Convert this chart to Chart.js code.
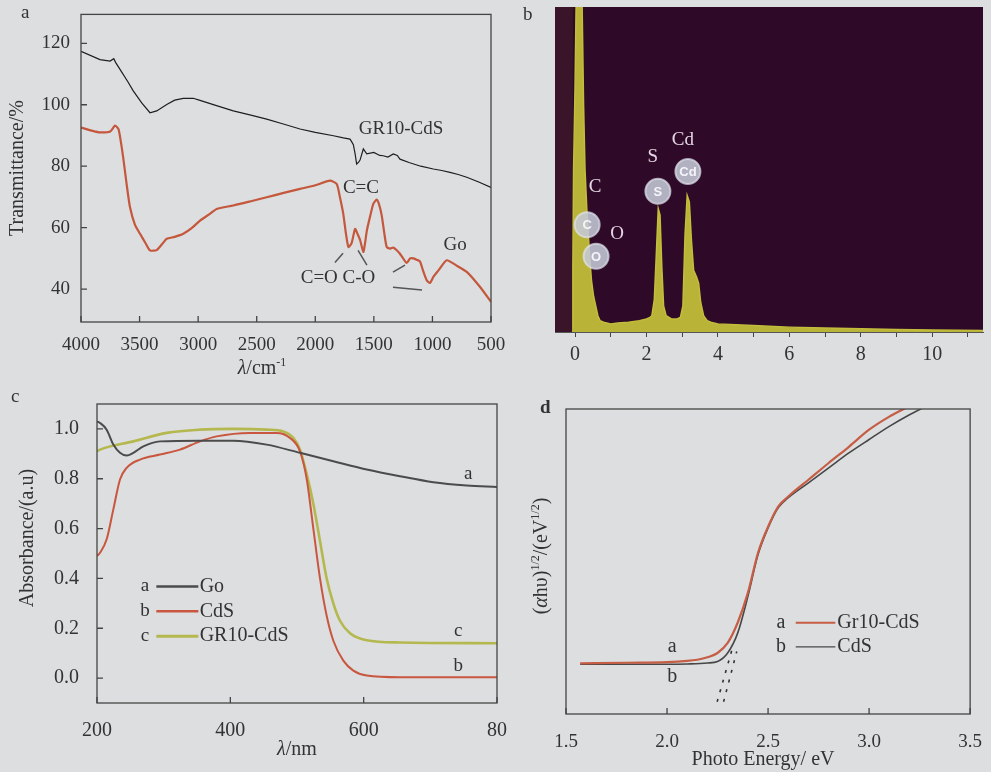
<!DOCTYPE html>
<html>
<head>
<meta charset="utf-8">
<script src="https://cdn.jsdelivr.net/npm/chart.js@4"></script>
<style>
  body { margin: 0; background: #dcdee0; width: 991px; height: 772px; position: relative; overflow: hidden; font-family: 'Liberation Serif', serif; color: #333; }
  canvas { position: absolute; }
  .tag { position: absolute; font-size: 19px; line-height: 20px; color: #333; }
</style>
</head>
<body>
<canvas id="ca" width="520" height="380" style="left:0;top:0"></canvas>
<canvas id="cb" width="471" height="380" style="left:520px;top:0"></canvas>
<canvas id="cc" width="520" height="392" style="left:0;top:380px"></canvas>
<canvas id="cd" width="471" height="392" style="left:520px;top:380px"></canvas>
<div class="tag" style="left:21px;top:2px">a</div>
<div class="tag" style="left:523px;top:4px">b</div>
<div class="tag" style="left:11px;top:386px">c</div>
<div class="tag" style="left:540px;top:397px;font-weight:bold">d</div>
<script>
// ---- panel a : FTIR (wavenumber, transmittance) ----
const grFtir = [[4000,117.4],[3838,114.7],[3752,114.2],[3720,115.0],[3705,113.8],[3667,111.5],[3600,107.5],[3554,104.5],[3480,100.5],[3411,97.4],[3354,98.0],[3268,100.1],[3200,101.5],[3127,102.1],[3042,102.1],[2984,101.4],[2850,99.8],[2700,98.0],[2550,96.6],[2415,95.3],[2280,93.8],[2130,92.1],[2000,91.0],[1845,89.9],[1760,89.2],[1704,88.8],[1690,88.0],[1675,87.0],[1660,84.0],[1647,80.7],[1630,81.3],[1618,82.0],[1590,85.6],[1561,84.0],[1500,84.5],[1450,83.5],[1420,83.4],[1380,83.0],[1334,84.0],[1300,83.5],[1277,82.3],[1200,81.2],[1100,80.0],[992,79.1],[920,78.6],[850,78.0],[780,77.3],[707,76.4],[600,74.8],[500,73.1]];
const goFtir = [[4000,92.6],[3900,91.5],[3838,91.0],[3750,91.3],[3710,93.2],[3680,92.1],[3660,88.0],[3640,82.9],[3610,74.0],[3582,66.7],[3540,61.0],[3496,58.0],[3450,55.0],[3411,52.6],[3354,52.7],[3300,55.0],[3268,56.4],[3200,57.0],[3127,58.0],[3050,60.0],[2984,62.3],[2900,64.5],[2842,66.1],[2700,67.2],[2550,68.6],[2415,69.9],[2270,71.3],[2130,72.6],[2000,73.8],[1874,75.3],[1817,74.2],[1790,70.0],[1761,64.5],[1740,58.5],[1717,53.7],[1690,55.0],[1660,59.6],[1640,58.0],[1617,55.9],[1590,52.1],[1575,55.0],[1560,59.0],[1530,64.0],[1504,67.8],[1476,69.1],[1455,67.5],[1433,64.0],[1410,58.0],[1390,53.7],[1360,53.2],[1334,53.5],[1300,52.5],[1277,51.5],[1250,50.0],[1220,48.5],[1190,50.0],[1163,50.0],[1130,49.5],[1106,49.0],[1080,46.0],[1049,42.9],[1021,42.0],[992,44.0],[950,46.0],[878,49.4],[800,47.8],[707,45.6],[600,41.0],[500,35.9]];
const irTicks = [500, 1000, 1500, 2000, 2500, 3000, 3500, 4000];
const trTicks = [40, 60, 80, 100, 120];

// ---- panel b : EDS spectrum (keV, relative counts) ----
const edsSpectrum = [[-0.08,0],[-0.06,20],[-0.04,50],[0.0,75],[0.03,100],[0.08,140],[0.14,130],[0.2,100],[0.24,70],[0.28,50],[0.33,38],[0.4,25],[0.46,16],[0.52,11],[0.58,8],[0.64,5],[0.7,3.5],[0.8,3],[1.0,2.5],[1.2,2.8],[1.5,3],[1.8,3.5],[2.0,4],[2.1,4.5],[2.15,5],[2.22,10],[2.28,25],[2.33,38],[2.38,36],[2.43,20],[2.48,8],[2.55,5],[2.7,4],[2.85,4],[2.95,4.5],[3.02,8],[3.08,30],[3.14,42],[3.2,40],[3.26,28],[3.32,19],[3.4,17],[3.46,15],[3.52,9],[3.6,5],[3.7,3.5],[3.8,3],[4.0,2.5],[5.0,2],[6.0,1.5],[7.0,1.2],[8.0,1],[9.0,0.8],[10.0,0.6],[11.42,0.5]];
const edsMarkers = [[0.34,33],[0.59,23.3],[2.32,43.3],[3.16,49.4]];
const edsMarkerText = ['C', 'O', 'S', 'Cd'];
const edsLabels = [['C',0.56,44.5],['O',1.18,30],['S',2.18,53.7],['Cd',3.02,59.2]];
const keVTicks = [0, 1, 2, 3, 4, 5, 6, 7, 8, 9, 10, 11];

// ---- panel c : UV-vis absorbance (nm, a.u.) ----
const goAbs = [[200,1.03],[204.5,1.024],[214.5,0.997],[224.5,0.937],[234.5,0.904],[244.5,0.893],[254.5,0.904],[269.5,0.93],[294.5,0.95],[354.5,0.953],[404.5,0.953],[454.5,0.937],[504.5,0.904],[554.5,0.87],[604.5,0.837],[654.5,0.81],[704.5,0.786],[754.5,0.773],[800,0.767]];
const cdsAbs = [[200,0.49],[204.5,0.503],[214.5,0.557],[224.5,0.677],[234.5,0.797],[244.5,0.844],[264.5,0.877],[294.5,0.897],[324.5,0.917],[354.5,0.95],[379.5,0.97],[429.5,0.984],[469.5,0.984],[489.5,0.964],[504.5,0.91],[514.5,0.8],[524.5,0.6],[534.5,0.4],[544.5,0.25],[554.5,0.15],[569.5,0.07],[584.5,0.03],[604.5,0.01],[654.5,0.003],[800,0.003]];
const grAbs = [[200,0.91],[204.5,0.917],[254.5,0.95],[304.5,0.984],[354.5,0.997],[404.5,1.0],[454.5,0.997],[479.5,0.99],[494.5,0.964],[504.5,0.917],[514.5,0.82],[524.5,0.7],[534.5,0.55],[544.5,0.4],[554.5,0.3],[564.5,0.23],[579.5,0.18],[604.5,0.152],[654.5,0.143],[800,0.14]];
const nmTicks = [200, 400, 600, 800];
const nmTickText = ['200', '400', '600', '80'];
const absTicks = [0.0, 0.2, 0.4, 0.6, 0.8, 1.0];

// ---- panel d : Tauc plot (eV, (ahv)^1/2) ----
const grTauc = [[1.57,16.6],[1.8,16.8],[2.0,17.0],[2.1,17.4],[2.15,17.8],[2.2,18.6],[2.25,20],[2.3,23.3],[2.35,30],[2.4,39.7],[2.45,52.8],[2.5,61.4],[2.55,68],[2.6,71.3],[2.7,76.8],[2.8,82.3],[2.9,87.6],[3.0,93.2],[3.1,97.5],[3.2,101]];
const cdsTauc = [[1.57,16.3],[1.8,16.3],[2.0,16.3],[2.1,16.4],[2.2,16.7],[2.25,17.2],[2.3,20],[2.35,26.6],[2.4,38.5],[2.45,52.2],[2.5,61],[2.55,67.6],[2.6,70.9],[2.7,75.8],[2.8,80.7],[2.9,85.6],[3.0,90],[3.1,94.3],[3.2,98.1],[3.3,101.5]];
const grTangent = [[2.248,4],[2.321,21]];
const cdsTangent = [[2.28,4],[2.345,20.5]];
const eVTicks = [1.5, 2.0, 2.5, 3.0, 3.5];

const SERIF = "'Liberation Serif', 'DejaVu Serif', serif";
Chart.defaults.font.family = SERIF;
Chart.defaults.color = '#333';
Chart.defaults.animation = false;
Chart.defaults.events = [];
Chart.defaults.layout.autoPadding = false;
Chart.defaults.plugins.legend.display = false;
Chart.defaults.plugins.tooltip.enabled = false;

const xy = arr => arr.map(([x, y]) => ({ x, y }));
const setTicks = list => s => { s.ticks = list.map(v => ({ value: v })); };

// box round the plot with short ticks pointing inwards
function frame(tick) {
  return {
    id: 'frame',
    afterDatasetsDraw(chart) {
      const { ctx, chartArea: a, scales } = chart;
      ctx.save();
      ctx.strokeStyle = '#444';
      ctx.lineWidth = 1.3;
      ctx.strokeRect(a.left, a.top, a.right - a.left, a.bottom - a.top);
      ctx.beginPath();
      scales.x.ticks.forEach(t => {
        const p = scales.x.getPixelForValue(t.value);
        ctx.moveTo(p, a.bottom); ctx.lineTo(p, a.bottom - tick);
      });
      scales.y.ticks.forEach(t => {
        const p = scales.y.getPixelForValue(t.value);
        ctx.moveTo(a.left, p); ctx.lineTo(a.left + tick, p);
      });
      ctx.stroke();
      ctx.restore();
    }
  };
}

// texts and short lines placed in data units
function notes(texts, lines) {
  return {
    id: 'notes',
    afterDatasetsDraw(chart) {
      const { ctx, scales: { x, y } } = chart;
      ctx.save();
      lines.forEach(l => {
        ctx.strokeStyle = l.color || '#555';
        ctx.lineWidth = l.width || 1.5;
        ctx.beginPath();
        ctx.moveTo(x.getPixelForValue(l.x1), y.getPixelForValue(l.y1));
        ctx.lineTo(x.getPixelForValue(l.x2), y.getPixelForValue(l.y2));
        ctx.stroke();
      });
      texts.forEach(t => {
        ctx.font = `${t.size || 19}px ${SERIF}`;
        ctx.fillStyle = t.color || '#333';
        ctx.textAlign = t.align || 'center';
        ctx.textBaseline = 'middle';
        ctx.fillText(t.t, x.getPixelForValue(t.x), y.getPixelForValue(t.y));
      });
      ctx.restore();
    }
  };
}

// axis titles with italic / superscript pieces
function drawRuns(ctx, runs, cx, cy, rot, size) {
  const fontOf = r => `${r.i ? 'italic ' : ''}${r.sup ? Math.round(size * 0.62) : size}px ${SERIF}`;
  const widths = runs.map(r => { ctx.font = fontOf(r); return ctx.measureText(r.t).width; });
  const total = widths.reduce((s, w) => s + w, 0);
  ctx.save();
  ctx.translate(cx, cy);
  ctx.rotate(rot);
  ctx.textBaseline = 'middle';
  ctx.textAlign = 'left';
  ctx.fillStyle = '#333';
  let px = -total / 2;
  runs.forEach((r, i) => {
    ctx.font = fontOf(r);
    ctx.fillText(r.t, px, r.sup ? -size * 0.33 : 0);
    px += widths[i];
  });
  ctx.restore();
}
function titles(list) {
  return {
    id: 'titles',
    afterDraw(chart) {
      list.forEach(t => drawRuns(chart.ctx, t.runs, t.x, t.y, t.rot || 0, 20));
    }
  };
}

const tickFont = { size: 19 };

// ---------- a ----------
new Chart(document.getElementById('ca'), {
  type: 'line',
  data: {
    datasets: [
      { data: xy(grFtir), borderColor: '#1e1e1e', borderWidth: 1.2, pointRadius: 0, tension: 0 },
      { data: xy(goFtir), borderColor: '#c4573c', borderWidth: 2.2, pointRadius: 0, tension: 0.2 }
    ]
  },
  options: {
    responsive: false,
    layout: { padding: { top: 13, right: 29 } },
    scales: {
      x: {
        type: 'linear', reverse: true, min: 500, max: 4000,
        afterBuildTicks: setTicks(irTicks), afterFit: s => { s.height = 58; },
        grid: { display: false }, border: { display: false },
        ticks: { font: tickFont, padding: 4, autoSkip: false, maxRotation: 0, callback: v => String(v) }
      },
      y: {
        min: 29.3, max: 129.4,
        afterBuildTicks: setTicks(trTicks), afterFit: s => { s.width = 81; },
        grid: { display: false }, border: { display: false },
        ticks: { font: tickFont, padding: 3, callback: v => String(v) }
      }
    }
  },
  plugins: [
    frame(6),
    notes(
      [
        { t: 'GR10-CdS', x: 1268, y: 92.1 },
        { t: 'C=C', x: 1610, y: 73.0 },
        { t: 'C=O C-O', x: 1806, y: 43.6 },
        { t: 'Go', x: 807, y: 54.3 }
      ],
      [
        { x1: 1832, y1: 48.7, x2: 1763, y2: 51.7 },
        { x1: 1559, y1: 47.8, x2: 1635, y2: 52.6 },
        { x1: 1337, y1: 45.5, x2: 1234, y2: 47.8 },
        { x1: 1337, y1: 40.6, x2: 1089, y2: 39.7 }
      ]
    ),
    titles([
      { runs: [{ t: 'Transmittance/%' }], x: 18, y: 168, rot: -Math.PI / 2 },
      { runs: [{ t: 'λ', i: true }, { t: '/cm' }, { t: '-1', sup: true }], x: 262, y: 369 }
    ])
  ]
});

// ---------- b ----------
new Chart(document.getElementById('cb'), {
  type: 'line',
  data: {
    datasets: [
      { data: xy(edsMarkers), showLine: false, pointRadius: 12.5, pointBackgroundColor: 'rgba(196,200,214,0.88)', pointBorderColor: 'rgba(225,228,238,0.7)', pointBorderWidth: 2 },
      { data: xy(edsSpectrum), borderColor: '#c3bd3c', borderWidth: 1.5, backgroundColor: '#b9b338', fill: 'origin', pointRadius: 0, tension: 0 }
    ]
  },
  options: {
    responsive: false,
    layout: { padding: { left: 35, top: 7, right: 8 } },
    scales: {
      x: {
        type: 'linear', min: -0.56, max: 11.42,
        afterBuildTicks: setTicks(keVTicks), afterFit: s => { s.height = 48; },
        grid: { display: true, drawOnChartArea: false, drawTicks: true, tickLength: 5, color: '#444' },
        border: { display: true, color: '#555' },
        ticks: { font: { size: 20 }, padding: 6, autoSkip: false, maxRotation: 0, callback: v => (v % 2 === 0 ? String(v) : '') }
      },
      y: { display: false, min: 0, max: 100 }
    }
  },
  plugins: [
    {
      id: 'plotBg',
      beforeDatasetsDraw(chart) {
        const { ctx, chartArea: a, scales: { x } } = chart;
        const edge = x.getPixelForValue(-0.06);
        ctx.save();
        ctx.fillStyle = '#2e0a28';
        ctx.fillRect(a.left, a.top, a.right - a.left, a.bottom - a.top);
        ctx.fillStyle = '#3a1529';
        ctx.fillRect(a.left, a.top, edge - a.left, a.bottom - a.top);
        ctx.restore();
      }
    },
    {
      id: 'markerText',
      afterDatasetsDraw(chart) {
        const { ctx } = chart;
        ctx.save();
        ctx.font = `bold 13px 'Liberation Sans', sans-serif`;
        ctx.fillStyle = '#f4f4fa';
        ctx.textAlign = 'center';
        ctx.textBaseline = 'middle';
        chart.getDatasetMeta(0).data.forEach((pt, i) => ctx.fillText(edsMarkerText[i], pt.x, pt.y + 1));
        ctx.restore();
      }
    },
    notes(edsLabels.map(([t, x, y]) => ({ t, x, y, color: '#e6d6e4', size: 19 })), [])
  ]
});

// ---------- c ----------
const cColors = ['#4b4b4b', '#c9563f', '#b5b84e'];
new Chart(document.getElementById('cc'), {
  type: 'line',
  data: {
    datasets: [
      { data: xy(goAbs), borderColor: cColors[0], borderWidth: 2, pointRadius: 0, cubicInterpolationMode: 'monotone' },
      { data: xy(cdsAbs), borderColor: cColors[1], borderWidth: 2, pointRadius: 0, cubicInterpolationMode: 'monotone' },
      { data: xy(grAbs), borderColor: cColors[2], borderWidth: 2.6, pointRadius: 0, cubicInterpolationMode: 'monotone' }
    ]
  },
  options: {
    responsive: false,
    layout: { padding: { top: 24, right: 23 } },
    scales: {
      x: {
        type: 'linear', min: 200, max: 800,
        afterBuildTicks: setTicks(nmTicks), afterFit: s => { s.height = 69; },
        grid: { display: false }, border: { display: false },
        ticks: { font: { size: 20 }, padding: 8, autoSkip: false, maxRotation: 0, callback: (v, i) => nmTickText[i] }
      },
      y: {
        min: -0.1, max: 1.1,
        afterBuildTicks: setTicks(absTicks), afterFit: s => { s.width = 97; },
        grid: { display: false }, border: { display: false },
        ticks: { font: { size: 20 }, padding: 10, callback: v => v.toFixed(1) }
      }
    }
  },
  plugins: [
    frame(6),
    notes(
      [
        { t: 'a', x: 272, y: 0.368 }, { t: 'Go', x: 354, y: 0.368, align: 'left', size: 20 },
        { t: 'b', x: 272, y: 0.268 }, { t: 'CdS', x: 354, y: 0.268, align: 'left', size: 20 },
        { t: 'c', x: 272, y: 0.168 }, { t: 'GR10-CdS', x: 354, y: 0.168, align: 'left', size: 20 },
        { t: 'a', x: 757, y: 0.817 }, { t: 'c', x: 742, y: 0.188 }, { t: 'b', x: 742, y: 0.048 }
      ],
      [
        { x1: 289, y1: 0.368, x2: 352, y2: 0.368, color: cColors[0], width: 2.5 },
        { x1: 289, y1: 0.268, x2: 352, y2: 0.268, color: cColors[1], width: 2.5 },
        { x1: 289, y1: 0.168, x2: 352, y2: 0.168, color: cColors[2], width: 3 }
      ]
    ),
    titles([
      { runs: [{ t: 'Absorbance/(a.u)' }], x: 28, y: 158, rot: -Math.PI / 2 },
      { runs: [{ t: 'λ', i: true }, { t: '/nm' }], x: 297, y: 370 }
    ])
  ]
});

// ---------- d ----------
const dColors = ['#c65d45', '#474747'];
new Chart(document.getElementById('cd'), {
  type: 'line',
  data: {
    datasets: [
      { data: xy(grTangent), borderColor: '#333', borderWidth: 1.6, borderDash: [3, 7], pointRadius: 0 },
      { data: xy(cdsTangent), borderColor: '#333', borderWidth: 1.6, borderDash: [3, 7], pointRadius: 0 },
      { data: xy(grTauc), borderColor: dColors[0], borderWidth: 2.2, pointRadius: 0, cubicInterpolationMode: 'monotone' },
      { data: xy(cdsTauc), borderColor: dColors[1], borderWidth: 1.6, pointRadius: 0, cubicInterpolationMode: 'monotone' }
    ]
  },
  options: {
    responsive: false,
    layout: { padding: { top: 29, right: 18 } },
    scales: {
      x: {
        type: 'linear', min: 1.5, max: 3.5,
        afterBuildTicks: setTicks(eVTicks), afterFit: s => { s.height = 58; },
        grid: { display: false }, border: { display: false },
        ticks: { font: tickFont, padding: 9, autoSkip: false, maxRotation: 0, callback: v => v.toFixed(1) }
      },
      y: {
        min: 0, max: 100,
        afterBuildTicks: setTicks([]), afterFit: s => { s.width = 46; },
        grid: { display: false }, border: { display: false },
        ticks: { display: false }
      }
    }
  },
  plugins: [
    frame(6),
    notes(
      [
        { t: 'a', x: 2.564, y: 29.9, size: 20 }, { t: 'Gr10-CdS', x: 2.843, y: 29.9, align: 'left', size: 20 },
        { t: 'b', x: 2.564, y: 22.0, size: 20 }, { t: 'CdS', x: 2.843, y: 22.0, align: 'left', size: 20 },
        { t: 'a', x: 2.026, y: 22.0, size: 20 }, { t: 'b', x: 2.026, y: 12.1, size: 20 }
      ],
      [
        { x1: 2.637, y1: 29.9, x2: 2.833, y2: 29.9, color: dColors[0], width: 2 },
        { x1: 2.637, y1: 22.0, x2: 2.833, y2: 22.0, color: dColors[1], width: 1.4 }
      ]
    ),
    titles([
      { runs: [{ t: '(' }, { t: 'α', i: true }, { t: 'hυ)' }, { t: '1/2', sup: true }, { t: '/(eV' }, { t: '1/2', sup: true }, { t: ')' }], x: 22, y: 176, rot: -Math.PI / 2 },
      { runs: [{ t: 'Photo Energy/ eV' }], x: 243, y: 380 }
    ])
  ]
});
</script>
</body>
</html>
